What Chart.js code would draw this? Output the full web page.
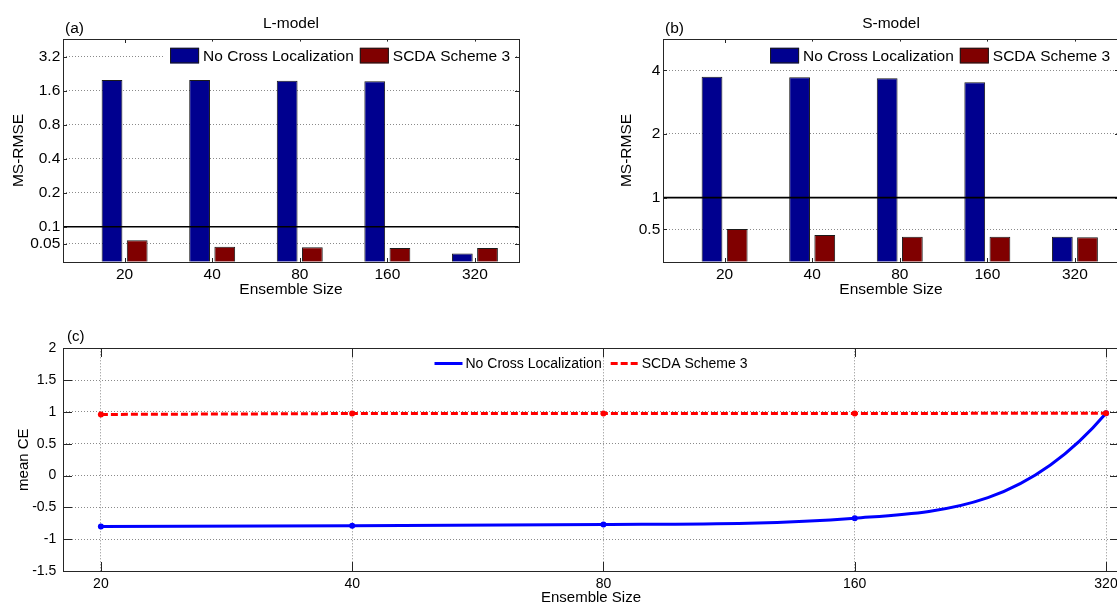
<!DOCTYPE html>
<html>
<head>
<meta charset="utf-8">
<script src="https://cdn.jsdelivr.net/npm/chart.js@4.4.1/dist/chart.umd.min.js"></script>
<style>
  html, body { margin: 0; padding: 0; background: #ffffff; overflow: hidden; width: 1117px; height: 606px; }
  canvas { position: absolute; display: block; }
</style>
</head>
<body>
<canvas id="chartA" width="560" height="310" style="left:0;top:0"></canvas>
<canvas id="chartB" width="600" height="310" style="left:560px;top:0"></canvas>
<canvas id="chartC" width="1160" height="310" style="left:0;top:310px"></canvas>
<script>
// ---------------- data ----------------
const categories = ['20', '40', '80', '160', '320'];
const ensembleSizes = [20, 40, 80, 160, 320];
const seriesNames = ['No Cross Localization', 'SCDA Scheme 3'];

// (a) L-model, MS-RMSE
const lNoCross = [1.99, 1.99, 1.96, 1.94, 0.058];
const lScheme3 = [0.076, 0.0665, 0.0657, 0.0648, 0.0648];
const lReference = 0.1;
const lTickValues = [0.0707, 0.1, 0.2, 0.4, 0.8, 1.6, 3.2];
const lTickLabels = ['0.05', '0.1', '0.2', '0.4', '0.8', '1.6', '3.2'];

// (b) S-model, MS-RMSE
const sNoCross = [3.73, 3.71, 3.67, 3.51, 0.654];
const sScheme3 = [0.711, 0.666, 0.654, 0.654, 0.650];
const sReference = 1;
const sTickValues = [0.7071, 1, 2, 4];
const sTickLabels = ['0.5', '1', '2', '4'];

// (c) mean CE
const ceNoCross = [-0.80, -0.79, -0.77, -0.67, 0.98];
const ceScheme3 = [0.96, 0.975, 0.975, 0.975, 0.98];
const ceTickValues = [-1.5, -1, -0.5, 0, 0.5, 1, 1.5, 2];
const ceTickLabels = ['-1.5', '-1', '-0.5', '0', '0.5', '1', '1.5', '2'];

// ---------------- style ----------------
const FONT = "'Liberation Sans', Arial, Helvetica, sans-serif";
const BLUE_BAR = '#00008F';
const RED_BAR = '#800000';
const GRID = '#8a8a8a';
const AXIS = '#262626';
Chart.defaults.font.family = FONT;
Chart.defaults.color = '#000';

function fontStr(size) { return size + 'px ' + FONT; }

// not-a-knot cubic spline (as MATLAB spline) slopes dy/dx at the knots, in data units
function splineSlopes(xs, ys) {
  const n = xs.length, h = [];
  for (let i = 0; i < n - 1; i++) h.push(xs[i + 1] - xs[i]);
  const A = Array.from({length: n}, () => new Array(n).fill(0));
  const b = new Array(n).fill(0);
  A[0][0] = -h[1]; A[0][1] = h[0] + h[1]; A[0][2] = -h[0];
  for (let i = 1; i < n - 1; i++) {
    A[i][i - 1] = h[i - 1]; A[i][i] = 2 * (h[i - 1] + h[i]); A[i][i + 1] = h[i];
    b[i] = 6 * ((ys[i + 1] - ys[i]) / h[i] - (ys[i] - ys[i - 1]) / h[i - 1]);
  }
  A[n - 1][n - 3] = -h[n - 2]; A[n - 1][n - 2] = h[n - 3] + h[n - 2]; A[n - 1][n - 1] = -h[n - 3];
  for (let c = 0; c < n; c++) {
    let p = c;
    for (let r = c + 1; r < n; r++) if (Math.abs(A[r][c]) > Math.abs(A[p][c])) p = r;
    [A[c], A[p]] = [A[p], A[c]]; [b[c], b[p]] = [b[p], b[c]];
    for (let r = c + 1; r < n; r++) {
      const f = A[r][c] / A[c][c];
      for (let k = c; k < n; k++) A[r][k] -= f * A[c][k];
      b[r] -= f * b[c];
    }
  }
  const M = new Array(n).fill(0);
  for (let r = n - 1; r >= 0; r--) {
    let s = b[r];
    for (let k = r + 1; k < n; k++) s -= A[r][k] * M[k];
    M[r] = s / A[r][r];
  }
  const m = [];
  for (let i = 0; i < n - 1; i++) m.push((ys[i + 1] - ys[i]) / h[i] - h[i] * (2 * M[i] + M[i + 1]) / 6);
  m.push((ys[n - 1] - ys[n - 2]) / h[n - 2] + h[n - 2] * (2 * M[n - 1] + M[n - 2]) / 6);
  return m;
}

const matlabLook = {
  id: 'matlabLook',
  beforeDatasetDraw(chart, args) {
    const ds = chart.data.datasets[args.index];
    if (!ds.spline) return;
    const pts = args.meta.data;
    if (pts.length < 4) return;
    const xScale = chart.scales.x, yScale = chart.scales.y;
    const dx = ds.data.map(d => d.x), dy = ds.data.map(d => d.y);
    const slopes = splineSlopes(dx, dy);
    const px = pts.map(p => p.x), py = pts.map(p => p.y);
    // convert data-space slopes to pixel-space slopes through the scales
    const pm = slopes.map((s, i) => {
      const e = dx[i] * 1e-4;
      const dPixX = (xScale.getPixelForValue(dx[i] + e) - xScale.getPixelForValue(dx[i] - e)) / (2 * e);
      const dPixY = (yScale.getPixelForValue(dy[i] + 1e-3) - yScale.getPixelForValue(dy[i] - 1e-3)) / 2e-3;
      return s * dPixY / dPixX;
    });
    pts.forEach((p, i) => {
      if (i > 0) { const h = px[i] - px[i - 1]; p.cp1x = px[i] - h / 3; p.cp1y = py[i] - pm[i] * h / 3; }
      else { p.cp1x = px[i]; p.cp1y = py[i]; }
      if (i < pts.length - 1) { const h = px[i + 1] - px[i]; p.cp2x = px[i] + h / 3; p.cp2y = py[i] + pm[i] * h / 3; }
      else { p.cp2x = px[i]; p.cp2y = py[i]; }
    });
    args.meta.dataset._pointsUpdated = true;
    args.meta.dataset._path = undefined;
  },
  afterDraw(chart, args, o) {
    const ctx = chart.ctx, ca = chart.chartArea;
    const xs = chart.scales.x, ys = chart.scales.y;
    const L = Math.round(ca.left), R = Math.round(ca.right), T = Math.round(ca.top), B = Math.round(ca.bottom);
    ctx.save();
    // inner tick marks
    ctx.strokeStyle = AXIS; ctx.lineWidth = 1;
    ctx.beginPath();
    xs.ticks.forEach(t => {
      const p = Math.round(xs.getPixelForValue(t.value)) + 0.5;
      ctx.moveTo(p, B); ctx.lineTo(p, B - o.tickLen);
      ctx.moveTo(p, T); ctx.lineTo(p, T + o.tickLen);
    });
    ys.ticks.forEach(t => {
      const p = Math.round(ys.getPixelForValue(t.value)) + 0.5;
      ctx.moveTo(L, p); ctx.lineTo(L + o.tickLen, p);
      ctx.moveTo(R, p); ctx.lineTo(R - o.tickLen, p);
    });
    ctx.stroke();

    // legend
    const items = chart.data.datasets.filter(d => d.label);
    ctx.font = fontStr(o.legendFont);
    const widths = items.map(d => ctx.measureText(d.label).width);
    const cy = ca.top + o.legendCy;
    const textY = cy + 0.716 * o.legendFont / 2;
    if (o.legendType === 'bar') {
      const box = 29, bh = 15.6, g1 = 4, g2 = 6;
      let total = 0;
      items.forEach((d, i) => { total += box + g1 + widths[i]; });
      total += g2 * (items.length - 1);
      let x = ca.right - o.legendRight - total;
      ctx.fillStyle = '#fff';
      ctx.fillRect(x - 5.5, cy - 14, total + 10.5, 28);
      items.forEach((d, i) => {
        ctx.fillStyle = d.backgroundColor;
        ctx.fillRect(x, cy - bh / 2, box, bh);
        ctx.strokeStyle = '#1a1a1a'; ctx.lineWidth = 1;
        ctx.strokeRect(x + 0.5, cy - bh / 2 + 0.5, box - 1, bh - 1);
        ctx.fillStyle = '#000'; ctx.textAlign = 'left'; ctx.textBaseline = 'alphabetic';
        ctx.fillText(d.label, x + box + g1, textY);
        x += box + g1 + widths[i] + g2;
      });
    } else {
      const sample = 28, g1 = 3, g2 = 9;
      let total = 0;
      items.forEach((d, i) => { total += sample + g1 + widths[i]; });
      total += g2 * (items.length - 1);
      let x = (ca.left + ca.right) / 2 - total / 2;
      items.forEach((d, i) => {
        ctx.strokeStyle = d.borderColor; ctx.lineWidth = d.borderWidth;
        ctx.setLineDash(d.borderDash || []);
        ctx.beginPath(); ctx.moveTo(x, Math.round(cy) + 0.5); ctx.lineTo(x + sample, Math.round(cy) + 0.5); ctx.stroke();
        ctx.setLineDash([]);
        ctx.fillStyle = '#000'; ctx.textAlign = 'left'; ctx.textBaseline = 'alphabetic';
        ctx.fillText(d.label, x + sample + g1, textY);
        x += sample + g1 + widths[i] + g2;
      });
    }

    // axes box
    ctx.strokeStyle = AXIS; ctx.lineWidth = 1;
    ctx.strokeRect(L + 0.5, T + 0.5, R - L, B - T);

    // panel label and title
    ctx.fillStyle = '#000';
    ctx.font = fontStr(o.labelFont);
    ctx.textBaseline = 'alphabetic';
    ctx.textAlign = 'left';
    ctx.fillText(o.panel, ca.left + o.panelDx, ca.top - o.panelDy);
    if (o.title) {
      ctx.textAlign = 'center';
      ctx.fillText(o.title, (ca.left + ca.right) / 2, ca.top - o.titleDy);
    }
    ctx.restore();
  }
};

const X_MIN_BAR = 0.3, X_MAX_BAR = 5.5;

function barChart(id, cfg) {
  return new Chart(document.getElementById(id), {
    type: 'bar',
    data: {
      datasets: [
        {
          type: 'line',
          data: [{x: X_MIN_BAR, y: cfg.reference}, {x: X_MAX_BAR, y: cfg.reference}],
          borderColor: '#000', borderWidth: 1.6, pointRadius: 0, order: 0
        },
        {
          label: seriesNames[0],
          data: categories.map((c, i) => ({x: i + 1, y: cfg.noCross[i]})),
          backgroundColor: BLUE_BAR, borderColor: '#1a1a1a', borderWidth: 1,
          categoryPercentage: 0.575, barPercentage: 0.825, order: 1
        },
        {
          label: seriesNames[1],
          data: categories.map((c, i) => ({x: i + 1, y: cfg.scheme3[i]})),
          backgroundColor: RED_BAR, borderColor: '#1a1a1a', borderWidth: 1,
          categoryPercentage: 0.575, barPercentage: 0.825, order: 1
        }
      ]
    },
    options: {
      responsive: false,
      animation: false,
      events: [],
      layout: {padding: {left: 0, top: 39.3, right: cfg.padRight, bottom: 0}},
      plugins: {
        legend: {display: false},
        tooltip: {enabled: false},
        matlabLook: {
          panel: cfg.panel, title: cfg.title, tickLen: 4,
          legendType: 'bar', legendFont: 15.5, legendCy: 16.3, legendRight: 8.7,
          labelFont: 15.5, panelDx: 1.7, panelDy: 6.8, titleDy: 11.3
        }
      },
      scales: {
        x: {
          type: 'linear', min: X_MIN_BAR, max: X_MAX_BAR, offset: false,
          afterBuildTicks: s => { s.ticks = categories.map((c, i) => ({value: i + 1})); },
          afterFit: s => { s.height = 48.3; },
          ticks: {callback: (v, i) => categories[i], padding: -4.3, maxRotation: 0, autoSkip: false, color: '#000', font: {size: 15.5}},
          grid: {display: false},
          border: {display: false},
          title: {display: true, text: 'Ensemble Size', color: '#000', font: {size: 15.5}, padding: {top: 0, bottom: 10.7}}
        },
        y: {
          type: 'logarithmic', min: cfg.yMin, max: cfg.yMax, bounds: 'data',
          afterBuildTicks: s => { s.ticks = cfg.tickValues.map(v => ({value: v})); },
          afterFit: s => { s.width = cfg.yWidth; },
          ticks: {callback: (v, i) => cfg.tickLabels[i], padding: 3, autoSkip: false, color: '#000', font: {size: 15.5}},
          grid: {color: GRID, lineWidth: 1, drawTicks: false},
          border: {display: false, dash: [1, 2]},
          title: {display: true, text: 'MS-RMSE', color: '#000', font: {size: 15.5}, padding: {top: cfg.yTitlePad, bottom: 0}}
        }
      }
    },
    plugins: [matlabLook]
  });
}

barChart('chartA', {
  noCross: lNoCross, scheme3: lScheme3, reference: lReference,
  tickValues: lTickValues, tickLabels: lTickLabels,
  yMin: 0.049, yMax: 4.56, yWidth: 63.3, padRight: 41.3, yTitlePad: 9,
  panel: '(a)', title: 'L-model'
});

barChart('chartB', {
  noCross: sNoCross, scheme3: sScheme3, reference: sReference,
  tickValues: sTickValues, tickLabels: sTickLabels,
  yMin: 0.498, yMax: 5.6, yWidth: 103.3, padRight: 41.3, yTitlePad: 57.9,
  panel: '(b)', title: 'S-model'
});

new Chart(document.getElementById('chartC'), {
  type: 'line',
  data: {
    datasets: [
      {
        label: seriesNames[0],
        data: ensembleSizes.map((s, i) => ({x: s, y: ceNoCross[i]})),
        borderColor: '#0000FF', borderWidth: 3, tension: 0.4, spline: true,
        pointRadius: 3, pointBackgroundColor: '#0000FF', pointBorderWidth: 0, order: 1
      },
      {
        label: seriesNames[1],
        data: ensembleSizes.map((s, i) => ({x: s, y: ceScheme3[i]})),
        borderColor: '#FF0000', borderWidth: 3, borderDash: [7, 3], tension: 0,
        pointRadius: 3, pointBackgroundColor: '#FF0000', pointBorderWidth: 0, order: 0
      }
    ]
  },
  options: {
    responsive: false,
    animation: false,
    events: [],
    layout: {padding: {left: 0, top: 38.3, right: 41.3, bottom: 0}},
    plugins: {
      legend: {display: false},
      tooltip: {enabled: false},
      matlabLook: {
        panel: '(c)', title: null, tickLen: 9,
        legendType: 'line', legendFont: 14, legendCy: 15, legendRight: 0,
        labelFont: 15, panelDx: 3.7, panelDy: 7.3, titleDy: 0
      }
    },
    scales: {
      x: {
        type: 'logarithmic', min: 18.03, max: 331.4, bounds: 'data',
        afterBuildTicks: s => { s.ticks = ensembleSizes.map(v => ({value: v})); },
        afterFit: s => { s.height = 49; },
        ticks: {callback: (v, i) => categories[i], padding: 4.7, maxRotation: 0, autoSkip: false, color: '#000', font: {size: 14}},
        grid: {color: GRID, lineWidth: 1, drawTicks: false},
        border: {display: false, dash: [1, 2]},
        title: {display: true, text: 'Ensemble Size', color: '#000', font: {size: 15}, padding: {top: 0, bottom: 13.3}}
      },
      y: {
        type: 'linear', min: -1.5, max: 2,
        afterBuildTicks: s => { s.ticks = ceTickValues.map(v => ({value: v})); },
        afterFit: s => { s.width = 63.3; },
        ticks: {callback: (v, i) => ceTickLabels[i], padding: 7, autoSkip: false, color: '#000', font: {size: 14}},
        grid: {color: GRID, lineWidth: 1, drawTicks: false},
        border: {display: false, dash: [1, 2]},
        title: {display: true, text: 'mean CE', color: '#000', font: {size: 15}, padding: {top: 14.5, bottom: 0}}
      }
    }
  },
  plugins: [matlabLook]
});
</script>
</body>
</html>
